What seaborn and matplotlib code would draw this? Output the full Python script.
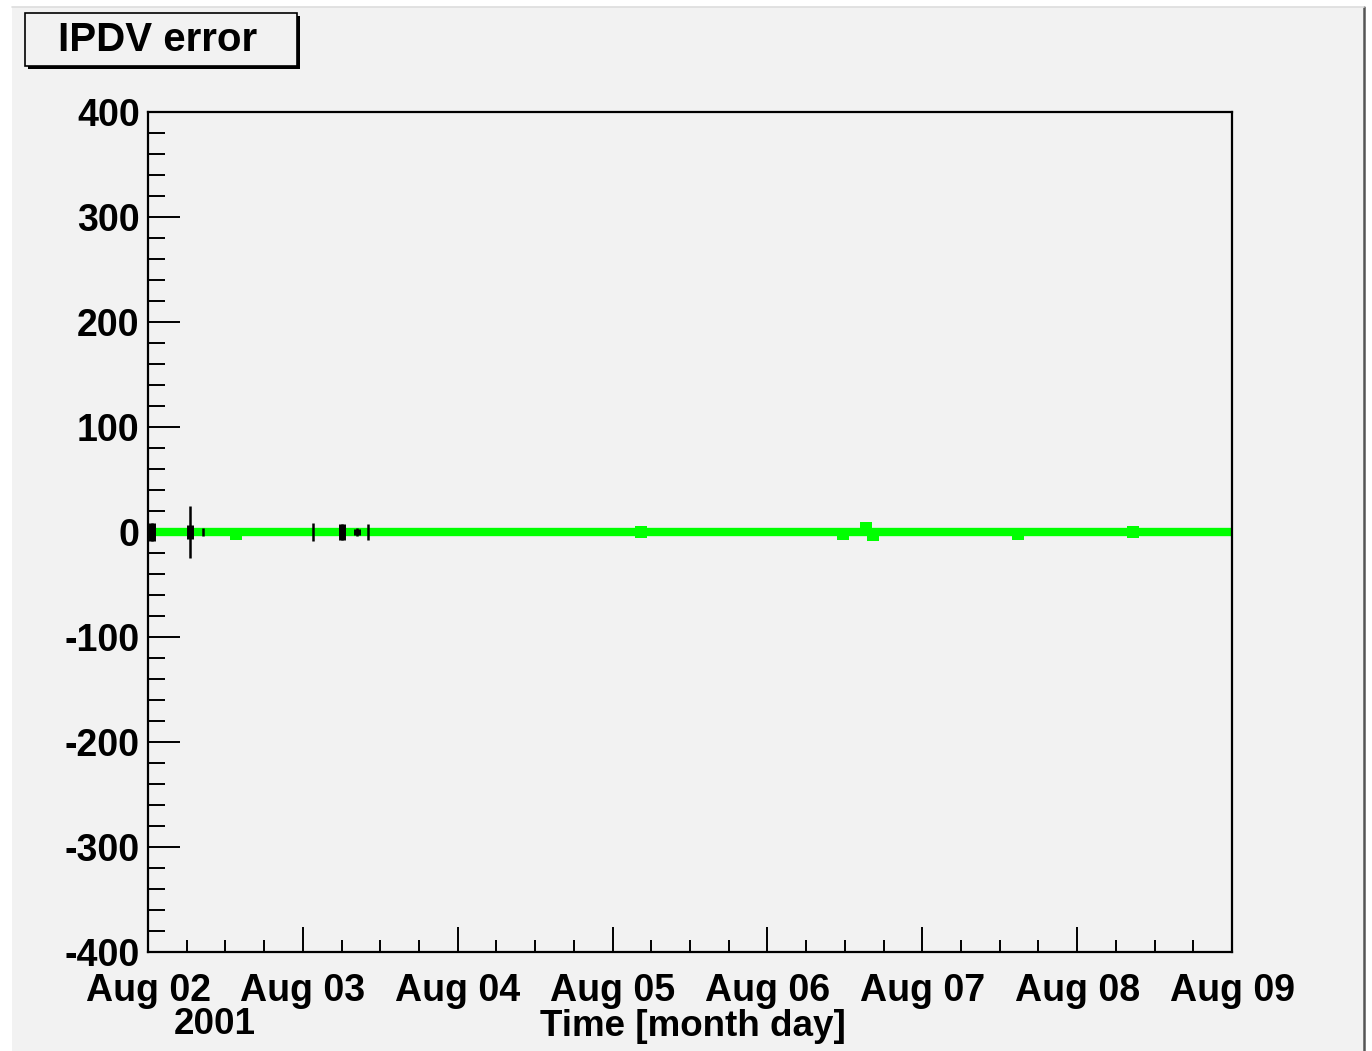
import matplotlib
matplotlib.use("Agg")
import matplotlib.pyplot as plt
import matplotlib.dates as mdates
from matplotlib.patches import Rectangle
from matplotlib.ticker import MultipleLocator
import seaborn as sns
import pandas as pd
import numpy as np

# ---- data (hours after 2001-08-02 00:00) ----
# green series: baseline line plus individual points that stand out from it
green_hours = [0.0, 24.0, 48.0, 72.0, 96.0, 120.0, 144.0, 168.0]
green_vals  = [0.0, 0.0, 0.0, 0.0, 0.0, 0.0, 0.0, 0.0]
bump_hours = [0.3, 13.6, 76.4, 107.7, 111.3, 112.4, 134.8, 152.7]
bump_vals  = [0.0, -2.0, 0.0, -2.0, 4.0, -3.0, -2.0, 0.0]

# black points with error bars
err_hours = [0.6, 6.5, 8.5, 25.6, 30.1, 32.4, 34.1]
err_vals  = [0.0, 0.0, 0.0, 0.0, 0.0, 0.0, 0.0]
err_sizes = [9.0, 25.0, 4.0, 9.0, 8.0, 4.0, 8.0]
err_core  = [9.0, 7.0, 0.0, 0.0, 8.0, 3.0, 0.0]

y_min, y_max = -400, 400
title_text = "IPDV error"
x_title = "Time [month day]"
year_text = "2001"

start = pd.Timestamp("2001-08-02 00:00")
end = pd.Timestamp("2001-08-09 00:00")

green = pd.DataFrame({"t": start + pd.to_timedelta(green_hours, unit="h"), "v": green_vals})
bumps = pd.DataFrame({"t": start + pd.to_timedelta(bump_hours, unit="h"), "v": bump_vals})
errs = pd.DataFrame({"t": start + pd.to_timedelta(err_hours, unit="h"), "v": err_vals,
                     "e": err_sizes, "c": err_core})

sns.set_theme(style="white")
plt.rcParams["font.family"] = ["Liberation Sans", "DejaVu Sans"]
plt.rcParams["font.weight"] = "bold"
plt.rcParams["text.color"] = "black"
plt.rcParams["xtick.color"] = "black"
plt.rcParams["ytick.color"] = "black"
plt.rcParams["axes.unicode_minus"] = False

W, H = 1372, 1051
fig = plt.figure(figsize=(W / 100, H / 100), dpi=100, facecolor="white")

# canvas panel
fig.patches.append(Rectangle((12 / W, 0), (1364 - 12) / W, (H - 7) / H, transform=fig.transFigure,
                             facecolor="#f2f2f2", edgecolor="none", zorder=-10))
fig.lines.append(plt.Line2D([1364 / W, 1364 / W], [0, (H - 7) / H], transform=fig.transFigure,
                            color="#555555", lw=1.8, zorder=-9))
fig.lines.append(plt.Line2D([12 / W, 1364 / W], [(H - 7) / H, (H - 7) / H], transform=fig.transFigure,
                            color="#dddddd", lw=1.2, zorder=-9))

left, right, top, bottom = 148, 1232, 112, 952
ax = fig.add_axes([left / W, 1 - bottom / H, (right - left) / W, (bottom - top) / H])
ax.set_facecolor("#f2f2f2")

sns.lineplot(data=green, x="t", y="v", ax=ax, color="#00ff00", lw=6, zorder=2)
sns.scatterplot(data=bumps, x="t", y="v", ax=ax, color="#00ff00", marker="s", s=70,
                linewidth=0, zorder=2.5)
ax.errorbar(errs["t"], errs["v"], yerr=errs["e"], fmt="none", ecolor="black", elinewidth=1.8,
            capsize=0, zorder=3)
core = errs[errs["c"] > 0]
ax.errorbar(core["t"], core["v"], yerr=core["c"], fmt="none", ecolor="black", elinewidth=5,
            capsize=0, zorder=4)

ax.set_xlim(start, end)
ax.set_ylim(y_min, y_max)
ax.xaxis.set_major_locator(mdates.DayLocator())
ax.xaxis.set_minor_locator(mdates.HourLocator(byhour=[6, 12, 18]))
ax.xaxis.set_major_formatter(mdates.DateFormatter("%b %d"))
ax.yaxis.set_major_locator(MultipleLocator(100))
ax.yaxis.set_minor_locator(MultipleLocator(20))

for s in ax.spines.values():
    s.set_linewidth(1.6)
    s.set_color("black")

ax.tick_params(axis="both", which="both", direction="in", top=False, right=False,
               bottom=True, left=True, colors="black", width=1.4)
ax.tick_params(axis="y", which="major", length=23, pad=6, labelsize=27)
ax.tick_params(axis="y", which="minor", length=12)
ax.tick_params(axis="x", which="major", length=18, pad=15, labelsize=27)
ax.tick_params(axis="x", which="minor", length=8.6)
for lab in ax.get_xticklabels() + ax.get_yticklabels():
    lab.set_fontweight("bold")
ax.set_xlabel("")
ax.set_ylabel("")

fig.text(693 / W, 1 - 1027 / H, x_title, ha="center", va="center", fontsize=26.5, fontweight="bold")
fig.text(215 / W, 1 - 1025 / H, year_text, ha="center", va="center", fontsize=26.5, fontweight="bold")

# title box with shadow
fig.patches.append(Rectangle((28 / W, 1 - 69 / H), (297 - 25) / W, (66 - 13) / H, transform=fig.transFigure,
                             facecolor="black", edgecolor="none", zorder=5))
fig.patches.append(Rectangle((25 / W, 1 - 66 / H), (297 - 25) / W, (66 - 13) / H, transform=fig.transFigure,
                             facecolor="#f2f2f2", edgecolor="black", lw=1.2, zorder=6))
fig.text(158 / W, 1 - 40 / H, title_text, ha="center", va="center", fontsize=29, fontweight="bold", zorder=7)

fig.savefig("out.png", dpi=100, facecolor="white")
